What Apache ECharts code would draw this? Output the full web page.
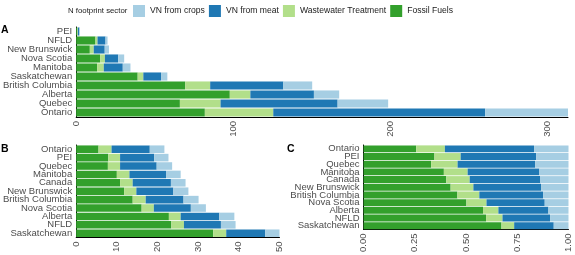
<!DOCTYPE html>
<html><head><meta charset="utf-8">
<script src="https://cdn.jsdelivr.net/npm/echarts@6/dist/echarts.min.js"></script>
<style>html,body{margin:0;padding:0;background:#fff}#c{width:575px;height:255px}</style>
</head><body><div id="c"></div>
<script>
// Panel A: absolute N footprint by province
const catA = ['PEI','NFLD','New Brunswick','Nova Scotia','Manitoba','Saskatchewan','British Columbia','Alberta','Quebec','Ontario'];
const fossilA = [0.8, 12.3, 8.7, 15.3, 13.4, 39.2, 69.5, 97.9, 66.1, 82.0];
const wasteA  = [0.3, 1.3, 2.5, 3.0, 4.2, 3.6, 15.9, 13.1, 25.9, 43.6];
const meatA   = [0.9, 5.1, 7.0, 8.5, 12.1, 11.3, 46.6, 40.5, 74.6, 135.0];
const cropsA  = [0.4, 1.3, 2.7, 3.8, 4.9, 4.0, 18.4, 16.1, 32.2, 52.8];
const ticksA = [0, 100, 200, 300];

// Panel B: per capita
const catB = ['Ontario','PEI','Quebec','Manitoba','Canada','New Brunswick','British Columbia','Nova Scotia','Alberta','NFLD','Saskatchewan'];
const fossilB = [5.5, 7.9, 7.8, 10.0, 10.8, 11.8, 13.9, 16.1, 22.8, 23.4, 33.7];
const wasteB  = [3.2, 2.9, 3.0, 3.1, 3.1, 3.0, 3.2, 3.0, 2.9, 3.1, 3.2];
const meatB   = [9.4, 8.4, 9.0, 9.0, 9.4, 9.1, 9.3, 9.1, 9.5, 9.1, 9.6];
const cropsB  = [3.6, 3.5, 3.8, 3.6, 3.6, 3.7, 3.7, 3.7, 3.7, 3.6, 3.5];
const ticksB = [0, 10, 20, 30, 40, 50];

// Panel C: proportions
const catC = catB;
const fossilC = [.257,.346,.330,.392,.404,.425,.458,.502,.583,.598,.673];
const wasteC  = [.140,.128,.129,.116,.114,.111,.107,.098,.075,.080,.062];
const meatC   = [.435,.368,.378,.350,.343,.330,.311,.284,.244,.232,.193];
const cropsC  = [.168,.158,.163,.142,.139,.134,.124,.116,.098,.090,.072];
const ticksC = [0, 0.25, 0.5, 0.75, 1];

const sectors = ['Fossil Fuels','Wastewater Treatment','VN from meat','VN from crops'];
const colors = {'VN from crops':'#A6CEE3','VN from meat':'#1F78B4','Wastewater Treatment':'#B2DF8A','Fossil Fuels':'#33A02C'};
const legendOrder = ['VN from crops','VN from meat','Wastewater Treatment','Fossil Fuels'];

const FONT = "'Liberation Sans', Arial, sans-serif";
const chart = echarts.init(document.getElementById('c'), null, {renderer:'canvas'});

const totalA = catA.map((_,i)=>fossilA[i]+wasteA[i]+meatA[i]+cropsA[i]);
const maxA = Math.max(...totalA);

const grids = [
  {left:75, top:27, width:493, height:90},
  {left:75, top:145, width:204.5, height:95},
  {left:363.5, top:145, width:205, height:95}
];
function xAxis(gi, min, max, interval, fmt, showMax){
  return {type:'value', gridIndex:gi, min:min, max:max, interval:interval,
    splitLine:{show:false}, axisTick:{show:false},
    axisLine:{show:true, lineStyle:{color:'#000', width:1}},
    axisLabel:{rotate:90, margin:4, fontSize:9.5, color:'#4D4D4D', fontFamily:FONT,
      formatter:fmt, showMaxLabel:showMax, showMinLabel:true}};
}
function yAxis(gi, cats){
  return {type:'category', gridIndex:gi, data:cats, inverse:true,
    axisTick:{show:false},
    axisLine:{show:true, lineStyle:{color:'#000', width:1}},
    axisLabel:{interval:0, margin:4, fontSize:9.5, color:'#4D4D4D', fontFamily:FONT, lineHeight:9, hideOverlap:false}};
}
const dataSets = [
  {'Fossil Fuels':fossilA,'Wastewater Treatment':wasteA,'VN from meat':meatA,'VN from crops':cropsA},
  {'Fossil Fuels':fossilB,'Wastewater Treatment':wasteB,'VN from meat':meatB,'VN from crops':cropsB},
  {'Fossil Fuels':fossilC,'Wastewater Treatment':wasteC,'VN from meat':meatC,'VN from crops':cropsC}
];
const series = [];
dataSets.forEach((ds, gi)=>{
  sectors.forEach(s=>{
    series.push({type:'bar', name:s, stack:'p'+gi, xAxisIndex:gi, yAxisIndex:gi,
      data:ds[s], barCategoryGap:'10%', itemStyle:{color:colors[s]}, silent:true,
      animation:false});
  });
});

chart.setOption({
  animation:false,
  textStyle:{fontFamily:FONT},
  grid:grids,
  xAxis:[
    xAxis(0, 0, maxA, ticksA[1]-ticksA[0], v=>String(v), false),
    xAxis(1, 0, ticksB[ticksB.length-1], ticksB[1]-ticksB[0], v=>String(v), true),
    xAxis(2, 0, ticksC[ticksC.length-1], ticksC[1]-ticksC[0], v=>v.toFixed(2), true)
  ],
  yAxis:[yAxis(0,catA), yAxis(1,catB), yAxis(2,catC)],
  legend:{data:legendOrder, left:133, top:5, padding:0, itemWidth:12, itemHeight:12, itemGap:4,
    icon:'rect', selectedMode:false,
    textStyle:{fontSize:8.6, color:'#1a1a1a', fontFamily:FONT}},
  graphic:[
    {type:'text', left:68, top:7, style:{text:'N footprint sector', fontSize:7.8, fill:'#1a1a1a', fontFamily:FONT}},
    {type:'text', left:1, top:25, style:{text:'A', fontSize:10.5, fontWeight:'bold', fill:'#000', fontFamily:FONT}},
    {type:'text', left:1, top:144, style:{text:'B', fontSize:10.5, fontWeight:'bold', fill:'#000', fontFamily:FONT}},
    {type:'text', left:287, top:144, style:{text:'C', fontSize:10.5, fontWeight:'bold', fill:'#000', fontFamily:FONT}}
  ],
  series:series
});
</script></body></html>
